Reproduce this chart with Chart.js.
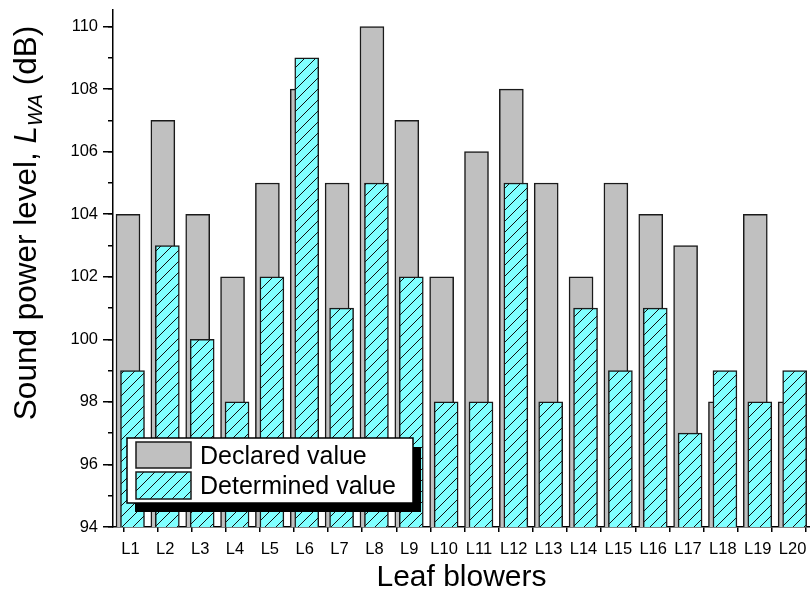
<!DOCTYPE html>
<html>
<head>
<meta charset="utf-8">
<script src="https://cdn.jsdelivr.net/npm/chart.js@4.4.1/dist/chart.umd.min.js"></script>
<style>
  html, body { margin: 0; padding: 0; background: #ffffff; }
  canvas { display: block; }
</style>
</head>
<body>
<canvas id="chart" width="810" height="591"></canvas>
<script>
// Leaf blower sound power levels, dB
const blowers = ['L1','L2','L3','L4','L5','L6','L7','L8','L9','L10',
                 'L11','L12','L13','L14','L15','L16','L17','L18','L19','L20'];
const declaredValue   = [104,107,104,102,105,108,105,110,107,102,106,108,105,102,105,104,103, 98,104, 98];
const determinedValue = [ 99,103,100, 98,102,109,101,105,102, 98, 98,105, 98,101, 99,101, 97, 99, 98, 99];
const seriesNames = ['Declared value', 'Determined value'];

const FONT = '"Liberation Sans", Arial, sans-serif';
const INK = '#000000';
const GREY = '#c0c0c0';
const CYAN = '#80ffff';

// diagonal "/" hatch on cyan
function hatchPattern() {
  const s = 11;
  const c = document.createElement('canvas');
  c.width = s; c.height = s;
  const g = c.getContext('2d');
  g.fillStyle = CYAN;
  g.fillRect(0, 0, s, s);
  g.strokeStyle = '#101010';
  g.lineWidth = 1;
  g.beginPath();
  g.moveTo(-1, s + 1); g.lineTo(s + 1, -1);
  g.moveTo(-1, 1);     g.lineTo(1, -1);
  g.moveTo(s - 1, s + 1); g.lineTo(s + 1, s - 1);
  g.stroke();
  return g.createPattern(c, 'repeat');
}
const hatch = hatchPattern();

const toPoints = arr => arr.map((v, i) => ({ x: i + 1, y: v }));

// y-axis title with italic L and subscript WA
const yTitlePlugin = {
  id: 'yTitle',
  afterDraw(chart) {
    const ctx = chart.ctx;
    const parts = [
      { t: 'Sound power level, ', f: '31.5px ' + FONT, dy: 0 },
      { t: 'L', f: 'italic 31.5px ' + FONT, dy: 0 },
      { t: 'WA', f: 'italic 20px ' + FONT, dy: 6 },
      { t: ' (dB)', f: '31.5px ' + FONT, dy: 0 }
    ];
    ctx.save();
    let total = 0;
    parts.forEach(p => { ctx.font = p.f; p.w = ctx.measureText(p.t).width; total += p.w; });
    ctx.translate(36, 223);
    ctx.rotate(-Math.PI / 2);
    ctx.fillStyle = INK;
    ctx.textBaseline = 'alphabetic';
    ctx.textAlign = 'left';
    let x = -total / 2;
    parts.forEach(p => { ctx.font = p.f; ctx.fillText(p.t, x, p.dy); x += p.w; });
    ctx.restore();
  }
};

// boxed legend with drop shadow, inside the plot
const boxLegendPlugin = {
  id: 'boxLegend',
  afterDraw(chart) {
    const ctx = chart.ctx;
    const bx = 127, by = 438, bw = 286, bh = 65;
    ctx.save();
    ctx.fillStyle = INK;
    ctx.fillRect(bx + 8, by + 9, bw, bh);
    ctx.fillStyle = '#ffffff';
    ctx.fillRect(bx, by, bw, bh);
    ctx.strokeStyle = INK;
    ctx.lineWidth = 1.5;
    ctx.strokeRect(bx, by, bw, bh);
    const rows = [
      { y: 442, h: 26, base: 463.5 },
      { y: 472, h: 27, base: 494 }
    ];
    chart.data.datasets.forEach((ds, i) => {
      const r = rows[i];
      ctx.fillStyle = ds.backgroundColor;
      ctx.fillRect(136, r.y, 55, r.h);
      ctx.strokeStyle = '#1a1a1a';
      ctx.lineWidth = 1.5;
      ctx.strokeRect(136, r.y, 55, r.h);
      ctx.fillStyle = INK;
      ctx.font = '25px ' + FONT;
      ctx.textBaseline = 'alphabetic';
      ctx.fillText(ds.label, 200, r.base);
    });
    ctx.restore();
  }
};

// fixed axis box sizes so the plot area sits where it should
function fixVertical(width) {
  return scale => { scale.width = width; scale.paddingTop = 0; scale.paddingBottom = 0; };
}
function fixHorizontal(height) {
  return scale => { scale.height = height; scale.paddingLeft = 0; scale.paddingRight = 0; };
}

new Chart(document.getElementById('chart'), {
  type: 'bar',
  data: {
    labels: blowers,
    datasets: [
      {
        label: seriesNames[0],
        data: toPoints(declaredValue),
        xAxisID: 'xg',
        backgroundColor: GREY,
        borderColor: '#1a1a1a',
        borderWidth: 1.5,
        barThickness: 24,
        grouped: false,
        order: 2
      },
      {
        label: seriesNames[1],
        data: toPoints(determinedValue),
        xAxisID: 'xc',
        backgroundColor: hatch,
        borderColor: '#1a1a1a',
        borderWidth: 1.5,
        barThickness: 24,
        grouped: false,
        order: 1
      }
    ]
  },
  options: {
    responsive: false,
    animation: false,
    devicePixelRatio: 1,
    layout: { padding: { top: 10, right: 0, bottom: 0, left: 0 } },
    plugins: { legend: { display: false }, tooltip: { enabled: false } },
    scales: {
      x: {
        type: 'category',
        position: 'bottom',
        weight: 1,
        offset: true,
        grid: { display: false },
        border: { display: false },
        ticks: { color: INK, font: { family: FONT, size: 16.5 }, padding: 5, maxRotation: 0, autoSkip: false },
        title: {
          display: true,
          text: 'Leaf blowers',
          color: INK,
          font: { family: FONT, size: 30, lineHeight: 0.9 },
          padding: { top: 0, bottom: 0 }
        },
        afterFit: fixHorizontal(64)
      },
      xt: {
        type: 'linear',
        position: 'bottom',
        weight: 0,
        offset: false,
        min: -0.302,
        max: 20.12,
        grid: { drawOnChartArea: false, offset: false, color: INK, lineWidth: 1.5, tickLength: 5 },
        border: { display: true, color: INK, width: 1.5 },
        ticks: { display: false, stepSize: 1, includeBounds: false },
        afterFit: fixHorizontal(0)
      },
      xg: { type: 'linear', display: false, offset: false, grid: { offset: false }, min: 0.5696, max: 20.5696 },
      xc: { type: 'linear', display: false, offset: false, grid: { offset: false }, min: 0.4405, max: 20.4405 },
      y: {
        type: 'linear',
        position: 'left',
        weight: 1,
        min: 94,
        max: 110.53,
        grid: { drawOnChartArea: false, color: INK, lineWidth: 1.5, tickLength: 10 },
        border: { display: true, color: INK, width: 1.5 },
        ticks: { color: INK, font: { family: FONT, size: 16.5 }, stepSize: 2, includeBounds: false, padding: 5 },
        afterFit: fixVertical(113)
      },
      y2: {
        type: 'linear',
        position: 'left',
        weight: 0,
        min: 94,
        max: 110.53,
        grid: { drawOnChartArea: false, color: INK, lineWidth: 1.5, tickLength: 5 },
        border: { display: false },
        ticks: { display: false, stepSize: 1, includeBounds: false },
        afterFit: fixVertical(0)
      }
    }
  },
  plugins: [yTitlePlugin, boxLegendPlugin]
});
</script>
</body>
</html>
